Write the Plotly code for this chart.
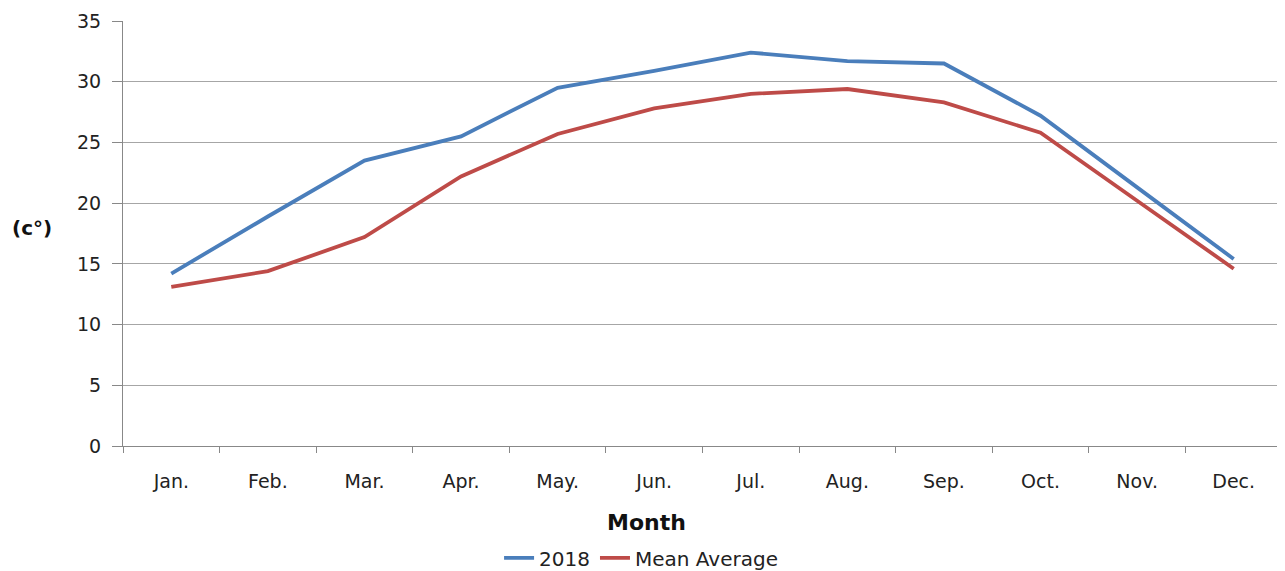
import plotly.graph_objects as go

months = ["Jan.", "Feb.", "Mar.", "Apr.", "May.", "Jun.", "Jul.", "Aug.", "Sep.", "Oct.", "Nov.", "Dec."]
temp_2018 = [14.2, 18.9, 23.5, 25.5, 29.5, 30.9, 32.4, 31.7, 31.5, 27.2, 21.3, 15.4]
temp_mean = [13.1, 14.4, 17.2, 22.2, 25.7, 27.8, 29.0, 29.4, 28.3, 25.8, 20.2, 14.6]

FONT = "DejaVu Sans"

fig = go.Figure()
fig.add_trace(go.Scatter(x=months, y=temp_2018, mode="lines", name="2018",
                         line=dict(color="#4a7ebb", width=3.8)))
fig.add_trace(go.Scatter(x=months, y=temp_mean, mode="lines", name="Mean Average",
                         line=dict(color="#be4b48", width=3.8)))

fig.update_layout(
    width=1285, height=571,
    margin=dict(l=115, r=11, t=13, b=133, autoexpand=False),
    paper_bgcolor="white", plot_bgcolor="white",
    font=dict(family=FONT, size=19, color="#222"),
    showlegend=True,
    legend=dict(orientation="h", x=0.447, xanchor="center", y=-0.263, yanchor="middle",
                font=dict(size=20, color="#222"), tracegroupgap=0),
    xaxis=dict(
        type="category", tickson="boundaries", range=[-0.5, 11.5],
        ticks="outside", ticklen=6,
        tickcolor="#888", showline=True, linecolor="#888", linewidth=1,
        showgrid=False, tickfont=dict(size=19), ticklabelstandoff=18,
    ),
    yaxis=dict(
        range=[0, 35], dtick=5, ticks="outside", ticklen=10, tickcolor="#888",
        showline=True, linecolor="#888", linewidth=1,
        showgrid=True, gridcolor="#a6a6a6", gridwidth=1, zeroline=False,
        tickfont=dict(size=19), ticklabelstandoff=7,
    ),
    annotations=[
        dict(text="<b>(c°)</b>", xref="paper", yref="paper", x=-0.0975, y=0.513,
             showarrow=False, font=dict(size=20, color="#111"), xanchor="left",
             yanchor="middle"),
        dict(text="<b>Month</b>", xref="paper", yref="paper", x=0.452, y=-0.179,
             showarrow=False, font=dict(size=22, color="#111"), xanchor="center",
             yanchor="middle"),
    ],
)

fig.write_html("out.html")
